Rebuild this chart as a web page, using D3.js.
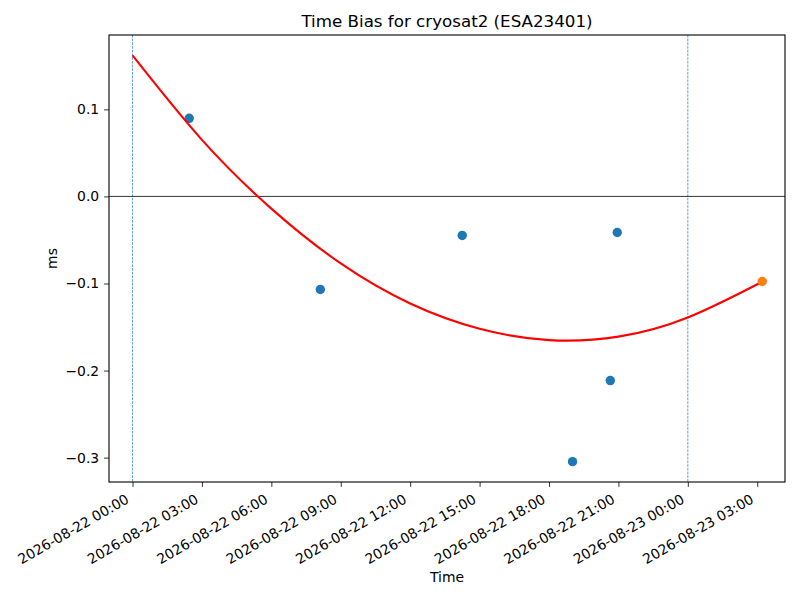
<!DOCTYPE html>
<html>
<head>
<meta charset="utf-8">
<script src="https://cdn.jsdelivr.net/npm/d3@7"></script>
<style>
  body { margin: 0; background: #fff; }
  svg { display: block; font-family: "DejaVu Sans", sans-serif; }
</style>
</head>
<body>
<svg id="chart"></svg>
<script>
// observed time bias points (blue)
const obsTimes = ["2026-08-22T02:27", "2026-08-22T08:07", "2026-08-22T14:15",
  "2026-08-22T19:01", "2026-08-22T20:39", "2026-08-22T20:57"];
const obsBias = [0.0897, -0.1069, -0.0448, -0.3046, -0.2115, -0.0414];

// predicted point (orange)
const predTimes = ["2026-08-23T03:13"];
const predBias = [-0.0977];

// fitted curve (red)
const fitTimes = ["2026-08-22T00:00", "2026-08-22T03:00", "2026-08-22T06:00",
  "2026-08-22T09:00", "2026-08-22T12:00", "2026-08-22T15:00", "2026-08-22T18:00",
  "2026-08-22T21:00", "2026-08-23T00:00", "2026-08-23T03:13"];
const fitBias = [0.162, 0.065, -0.014, -0.077, -0.123, -0.152, -0.165, -0.161, -0.139, -0.098];

// window boundaries (dashed)
const windowTimes = ["2026-08-22T00:00", "2026-08-23T00:00"];

const xTicks = ["2026-08-22T00:00", "2026-08-22T03:00", "2026-08-22T06:00",
  "2026-08-22T09:00", "2026-08-22T12:00", "2026-08-22T15:00", "2026-08-22T18:00",
  "2026-08-22T21:00", "2026-08-23T00:00", "2026-08-23T03:00"];
const yTicks = [0.1, 0.0, -0.1, -0.2, -0.3];
const xDomain = ["2026-08-21T22:59", "2026-08-23T04:12"];
const yDomain = [-0.328, 0.1854];

const width = 800, height = 600;
const margin = {top: 35, right: 15, bottom: 118, left: 109};
const font = "DejaVu Sans";

const parse = d3.utcParse("%Y-%m-%dT%H:%M");
const fmt = d3.utcFormat("%Y-%m-%d %H:%M");

const svg = d3.select("#chart")
  .attr("width", width)
  .attr("height", height)
  .attr("viewBox", [0, 0, width, height]);

const x = d3.scaleUtc(xDomain.map(parse), [margin.left, width - margin.right]);
const y = d3.scaleLinear(yDomain, [height - margin.bottom, margin.top]);

// clip to the axes box
svg.append("clipPath").attr("id", "clip")
  .append("rect")
  .attr("x", margin.left).attr("y", margin.top)
  .attr("width", width - margin.left - margin.right)
  .attr("height", height - margin.top - margin.bottom);

const plot = svg.append("g").attr("clip-path", "url(#clip)");

// dashed vertical lines
plot.selectAll(".vline")
  .data(windowTimes)
  .join("line")
  .attr("x1", d => x(parse(d))).attr("x2", d => x(parse(d)))
  .attr("y1", margin.top).attr("y2", height - margin.bottom)
  .attr("stroke", "#1f77b4")
  .attr("stroke-width", 0.7)
  .attr("stroke-dasharray", "2.6,1.1");

// zero line
plot.append("line")
  .attr("x1", margin.left).attr("x2", width - margin.right)
  .attr("y1", y(0)).attr("y2", y(0))
  .attr("stroke", "black")
  .attr("stroke-width", 0.8);

// observed points
plot.append("g")
  .attr("fill", "#1f77b4")
  .selectAll("circle")
  .data(obsTimes.map((t, i) => ({t: parse(t), v: obsBias[i]})))
  .join("circle")
  .attr("cx", d => x(d.t))
  .attr("cy", d => y(d.v))
  .attr("r", 4.7);

// fitted curve
const line = d3.line()
  .x(d => x(d.t))
  .y(d => y(d.v))
  .curve(d3.curveNatural);

plot.append("path")
  .datum(fitTimes.map((t, i) => ({t: parse(t), v: fitBias[i]})))
  .attr("fill", "none")
  .attr("stroke", "red")
  .attr("stroke-width", 2.1)
  .attr("d", line);

// predicted point
plot.append("g")
  .attr("fill", "#ff7f0e")
  .selectAll("circle")
  .data(predTimes.map((t, i) => ({t: parse(t), v: predBias[i]})))
  .join("circle")
  .attr("cx", d => x(d.t))
  .attr("cy", d => y(d.v))
  .attr("r", 4.7);

// x axis
const xAxis = svg.append("g")
  .attr("transform", `translate(0,${height - margin.bottom})`)
  .call(d3.axisBottom(x)
    .tickValues(xTicks.map(parse))
    .tickFormat(fmt)
    .tickSizeInner(4.9)
    .tickSizeOuter(0))
  .attr("font-family", font)
  .attr("font-size", 13.9);
xAxis.select(".domain").remove();
xAxis.selectAll(".tick line").attr("stroke-width", 0.8);
xAxis.selectAll(".tick text")
  .attr("fill", "#000")
  .attr("text-anchor", "end")
  .attr("y", 0).attr("dy", 0)
  .attr("transform", "translate(-3,20) rotate(-30)");

// y axis
const yAxis = svg.append("g")
  .attr("transform", `translate(${margin.left},0)`)
  .call(d3.axisLeft(y)
    .tickValues(yTicks)
    .tickFormat(d3.format(".1f"))
    .tickSizeInner(4.9)
    .tickPadding(4.9)
    .tickSizeOuter(0))
  .attr("font-family", font)
  .attr("font-size", 13.9);
yAxis.select(".domain").remove();
yAxis.selectAll(".tick line").attr("stroke-width", 0.8);
yAxis.selectAll(".tick text").attr("fill", "#000");

// axes frame
svg.append("rect")
  .attr("x", margin.left).attr("y", margin.top)
  .attr("width", width - margin.left - margin.right)
  .attr("height", height - margin.top - margin.bottom)
  .attr("fill", "none")
  .attr("stroke", "black")
  .attr("stroke-width", 1.1);

// title and labels
svg.append("text")
  .attr("x", (margin.left + width - margin.right) / 2)
  .attr("y", 27)
  .attr("text-anchor", "middle")
  .attr("font-size", 16.7)
  .text("Time Bias for cryosat2 (ESA23401)");

svg.append("text")
  .attr("x", (margin.left + width - margin.right) / 2)
  .attr("y", 582)
  .attr("text-anchor", "middle")
  .attr("font-size", 13.9)
  .text("Time");

svg.append("text")
  .attr("transform", `translate(57,${(margin.top + height - margin.bottom) / 2}) rotate(-90)`)
  .attr("text-anchor", "middle")
  .attr("font-size", 13.9)
  .text("ms");
</script>
</body>
</html>
